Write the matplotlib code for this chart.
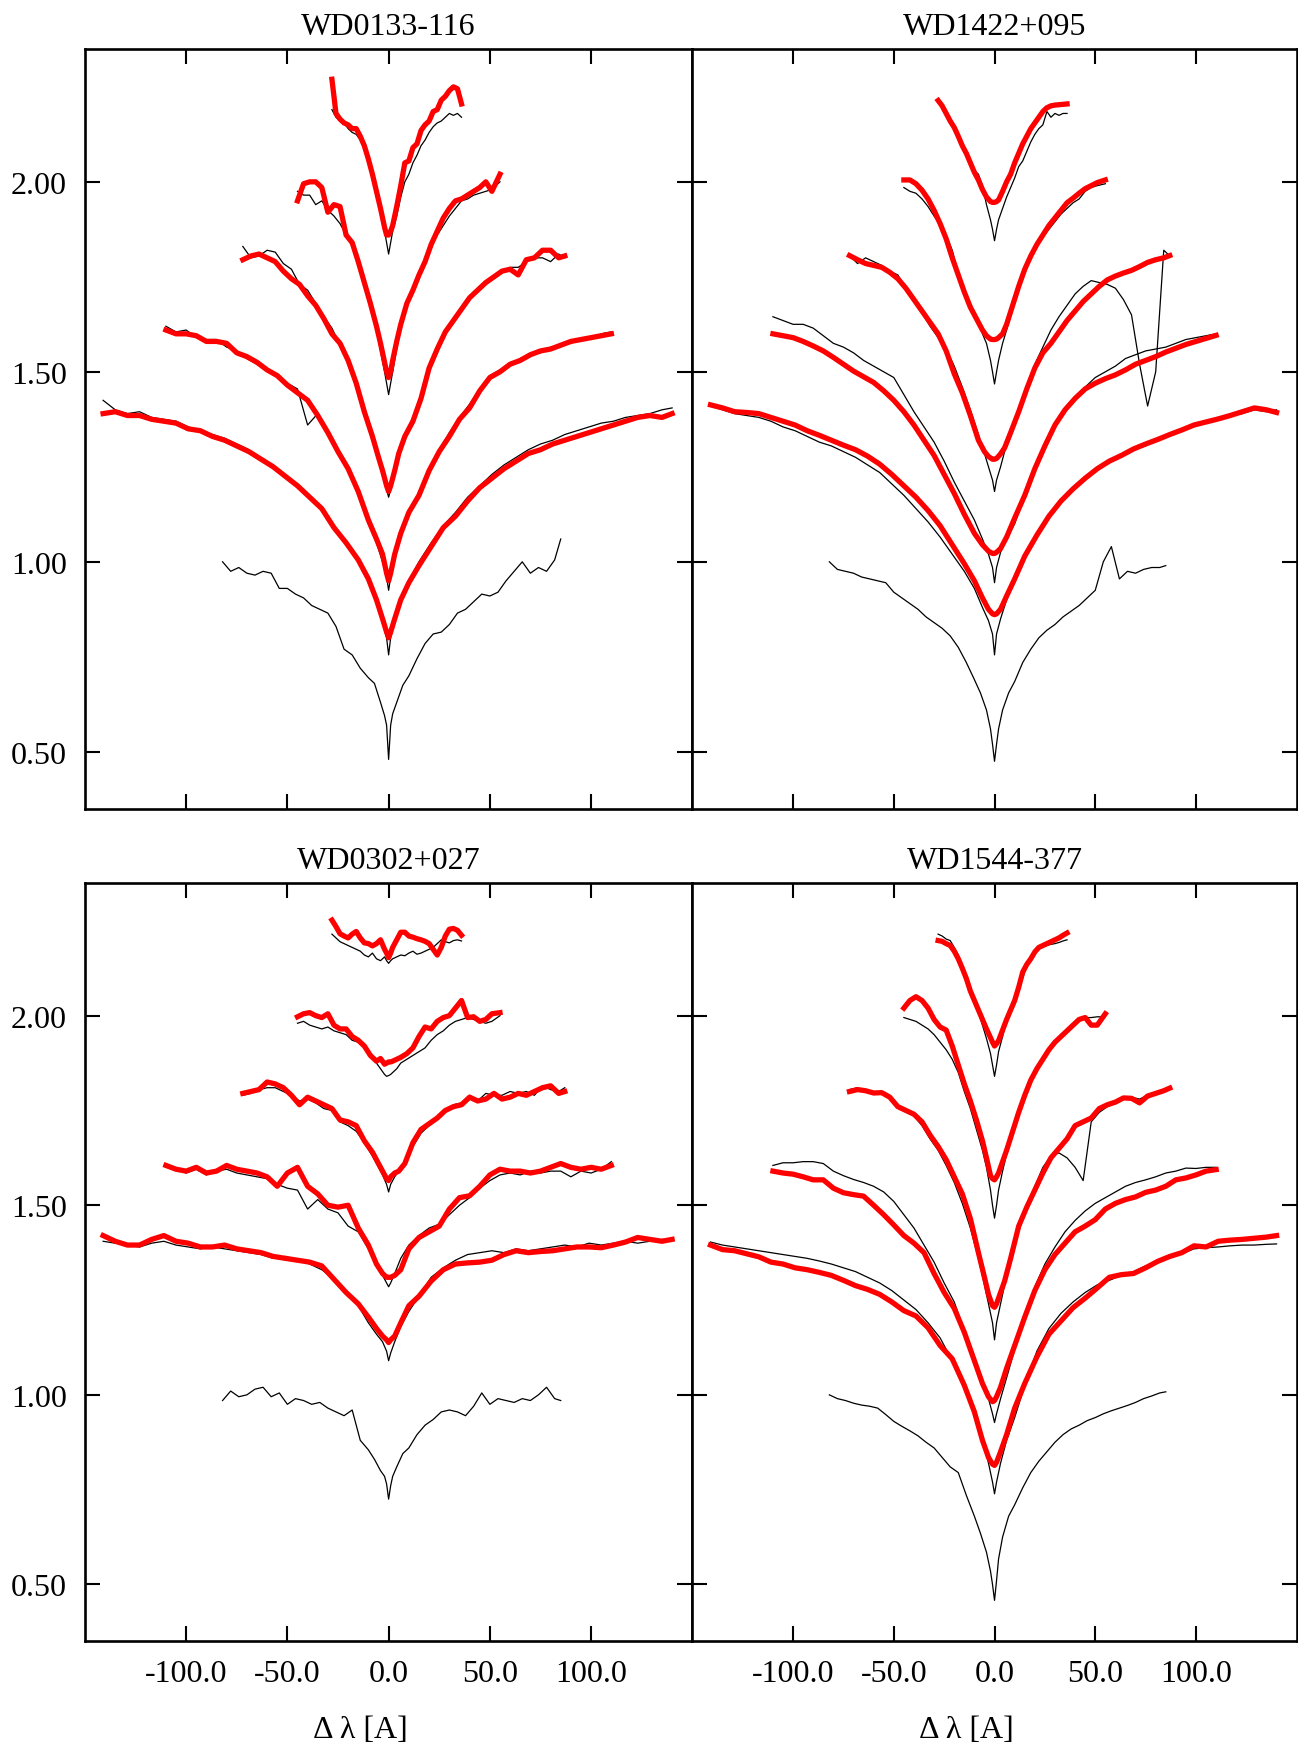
import matplotlib.pyplot as plt

plt.rcParams['font.family'] = ['Liberation Serif', 'DejaVu Serif']
plt.rcParams['axes.unicode_minus'] = False

# wavelength offsets from line centre [A], one grid per Balmer line
dl_ha = [-82, -78, -74, -70, -66, -62, -58, -54, -50, -46, -42, -38, -34, -30, -26, -22, -18, -14, -10,
         -7, -4, -2, -1, 0, 1, 2, 4, 7,
         10, 14, 18, 22, 26, 30, 34, 38, 42, 46, 50, 54, 58, 62, 66, 70, 74, 78, 82, 85]
dl_hb = [-141, -135, -129, -123, -117, -111, -105, -99, -93, -87, -81, -75, -69, -63, -57, -51, -45, -39,
         -33, -27, -21, -15, -10, -6, -3, -1, 0, 1, 3, 6, 10, 15, 21, 27, 33, 39, 45, 51, 57, 63, 69, 75,
         81, 87, 93, 99, 105, 111, 117, 123, 129, 135, 140]
dl_hg = [-110, -105, -100, -95, -90, -85, -80, -75, -70, -65, -60, -55, -50, -45, -40, -35, -30, -25, -20,
         -15, -10, -6, -3, -1, 0, 1, 3, 6, 10, 15, 20, 25, 30, 35, 40, 45, 50, 55, 60, 65, 70, 75, 80, 85,
         90, 95, 100, 105, 110]
dl_hd = [-72, -68, -64, -60, -56, -52, -48, -44, -40, -36, -32, -28, -24, -20, -16, -12,
         -8, -5, -3, -1, 0, 1, 3, 5, 8,
         12, 16, 20, 24, 28, 32, 36, 40, 44, 48, 52, 56, 60, 64, 68, 72, 76, 80, 84, 87]
dl_he = [-45, -42, -39, -36, -33, -30, -27, -24, -21, -18, -15, -12, -9,
         -6, -4, -2, -1, 0, 1, 2, 4, 6,
         9, 12, 15, 18, 21, 24, 27, 30, 33, 36, 39, 42, 45, 48, 51, 55]
dl_h8 = [-28, -26, -24, -22, -20, -18, -16, -14, -12, -10, -8, -6,
         -4, -2, -1, 0, 1, 2, 4,
         6, 8, 10, 12, 14, 16, 18, 20, 22, 24, 26, 28, 30, 32, 34, 36]

# ---- WD0133-116 : observed (offset) and model fits
s0133_ha = [1.00, 0.975, 0.985, 0.97, 0.965, 0.975, 0.97, 0.93, 0.93, 0.915, 0.905, 0.885, 0.875, 0.865, 0.83,
            0.77, 0.755, 0.72, 0.695, 0.68, 0.63, 0.595, 0.57, 0.48, 0.57, 0.6, 0.63, 0.675, 0.70, 0.745, 0.785,
            0.81, 0.815, 0.835, 0.865, 0.875, 0.895, 0.915, 0.91, 0.92, 0.95, 0.975, 1.0, 0.97, 0.985, 0.975,
            1.005, 1.06]
s0133_hb = [1.425, 1.40, 1.39, 1.395, 1.38, 1.375, 1.37, 1.355, 1.345, 1.335, 1.325, 1.31, 1.295, 1.27, 1.255,
            1.225, 1.205, 1.175, 1.14, 1.09, 1.045, 1.0, 0.95, 0.895, 0.84, 0.80, 0.755, 0.80, 0.845, 0.90,
            0.95, 1.0, 1.05, 1.095, 1.13, 1.17, 1.20, 1.23, 1.255, 1.275, 1.295, 1.31, 1.32, 1.335, 1.345,
            1.355, 1.365, 1.37, 1.38, 1.385, 1.39, 1.40, 1.405]
s0133_hb_fit = [1.39, 1.395, 1.385, 1.385, 1.375, 1.37, 1.365, 1.35, 1.345, 1.33, 1.32, 1.305, 1.29, 1.27,
                1.25, 1.225, 1.20, 1.17, 1.14, 1.09, 1.05, 1.005, 0.955, 0.90, 0.85, 0.815, 0.80, 0.815, 0.85,
                0.90, 0.945, 0.99, 1.04, 1.09, 1.12, 1.16, 1.195, 1.22, 1.245, 1.265, 1.285, 1.295, 1.31,
                1.32, 1.33, 1.34, 1.35, 1.36, 1.37, 1.38, 1.385, 1.38, 1.39]
s0133_hg = [1.62, 1.605, 1.61, 1.59, 1.585, 1.585, 1.565, 1.555, 1.535, 1.52, 1.51, 1.485, 1.47, 1.455, 1.36,
            1.39, 1.345, 1.295, 1.24, 1.175, 1.10, 1.05, 1.0, 0.96, 0.925, 0.96, 1.01, 1.07, 1.125, 1.185,
            1.245, 1.295, 1.34, 1.38, 1.415, 1.455, 1.49, 1.505, 1.515, 1.535, 1.545, 1.55, 1.565, 1.57,
            1.575, 1.59, 1.585, 1.60, 1.605]
s0133_hg_fit = [1.61, 1.60, 1.60, 1.595, 1.58, 1.58, 1.575, 1.55, 1.54, 1.525, 1.505, 1.49, 1.465, 1.445,
                1.425, 1.385, 1.34, 1.29, 1.245, 1.185, 1.11, 1.06, 1.02, 0.97, 0.95, 0.97, 1.02, 1.075,
                1.13, 1.175, 1.24, 1.29, 1.33, 1.375, 1.405, 1.45, 1.485, 1.50, 1.52, 1.53, 1.545, 1.555,
                1.56, 1.57, 1.58, 1.585, 1.59, 1.595, 1.60]
s0133_hd = [1.83, 1.80, 1.805, 1.82, 1.815, 1.785, 1.77, 1.73, 1.715, 1.68, 1.645, 1.615, 1.57, 1.52, 1.46,
            1.39, 1.325, 1.27, 1.23, 1.19, 1.17, 1.19, 1.235, 1.28, 1.33, 1.38, 1.44, 1.50, 1.55, 1.60,
            1.64, 1.665, 1.69, 1.715, 1.73, 1.745, 1.76, 1.775, 1.775, 1.79, 1.80, 1.80, 1.79, 1.81, 1.80]
s0133_hd_fit = [1.795, 1.805, 1.81, 1.80, 1.79, 1.765, 1.745, 1.73, 1.70, 1.675, 1.64, 1.60, 1.575, 1.53,
                1.47, 1.395, 1.33, 1.275, 1.24, 1.20, 1.185, 1.20, 1.24, 1.285, 1.33, 1.37, 1.43, 1.51,
                1.56, 1.605, 1.635, 1.665, 1.695, 1.715, 1.735, 1.75, 1.765, 1.77, 1.755, 1.795, 1.80,
                1.82, 1.82, 1.80, 1.805]
s0133_he = [1.975, 1.965, 1.965, 1.94, 1.95, 1.925, 1.91, 1.89, 1.86, 1.83, 1.785, 1.74, 1.68, 1.61, 1.555,
            1.50, 1.47, 1.44, 1.47, 1.50, 1.56, 1.615, 1.67, 1.715, 1.755, 1.80, 1.83, 1.86, 1.885, 1.91,
            1.93, 1.95, 1.955, 1.965, 1.97, 1.975, 1.98, 2.0]
s0133_he_fit = [1.95, 1.995, 2.0, 2.0, 1.985, 1.92, 1.94, 1.935, 1.86, 1.84, 1.79, 1.735, 1.68, 1.62, 1.575,
                1.525, 1.50, 1.485, 1.50, 1.53, 1.58, 1.625, 1.68, 1.715, 1.755, 1.79, 1.835, 1.87, 1.905,
                1.93, 1.95, 1.955, 1.965, 1.975, 1.985, 2.0, 1.975, 2.02]
s0133_h8 = [2.19, 2.17, 2.16, 2.155, 2.14, 2.13, 2.125, 2.11, 2.085, 2.05, 2.01, 1.96, 1.92, 1.87, 1.84,
            1.81, 1.84, 1.87, 1.91, 1.96, 2.0, 2.02, 2.05, 2.07, 2.095, 2.11, 2.13, 2.145, 2.155, 2.16,
            2.17, 2.18, 2.175, 2.18, 2.17]
s0133_h8_fit = [2.27, 2.18, 2.165, 2.155, 2.15, 2.14, 2.14, 2.12, 2.095, 2.06, 2.02, 1.975, 1.93, 1.88,
                1.86, 1.86, 1.87, 1.885, 1.935, 1.99, 2.05, 2.055, 2.09, 2.10, 2.135, 2.15, 2.16, 2.185,
                2.19, 2.215, 2.225, 2.24, 2.25, 2.245, 2.205]

# ---- WD1422+095
s1422_ha = [1.0, 0.98, 0.975, 0.97, 0.96, 0.955, 0.95, 0.945, 0.92, 0.905, 0.89, 0.875, 0.855, 0.84, 0.825,
            0.805, 0.775, 0.735, 0.69, 0.655, 0.61, 0.56, 0.52, 0.475, 0.52, 0.56, 0.61, 0.655, 0.685, 0.735,
            0.77, 0.80, 0.82, 0.835, 0.855, 0.87, 0.885, 0.905, 0.925, 1.0, 1.04, 0.955, 0.975, 0.97,
            0.98, 0.985, 0.985, 0.99]
s1422_hb = [1.41, 1.40, 1.39, 1.385, 1.38, 1.37, 1.355, 1.345, 1.33, 1.315, 1.305, 1.29, 1.275, 1.255, 1.235,
            1.205, 1.175, 1.14, 1.105, 1.065, 1.02, 0.975, 0.93, 0.88, 0.845, 0.81, 0.755, 0.81, 0.85, 0.90,
            0.95, 1.01, 1.07, 1.115, 1.16, 1.19, 1.22, 1.245, 1.26, 1.28, 1.295, 1.305, 1.325, 1.335, 1.345,
            1.36, 1.37, 1.375, 1.385, 1.39, 1.40, 1.395, 1.40]
s1422_hb_fit = [1.413, 1.405, 1.395, 1.393, 1.39, 1.38, 1.37, 1.36, 1.345, 1.333, 1.32, 1.307, 1.295, 1.278,
                1.257, 1.23, 1.20, 1.17, 1.135, 1.095, 1.045, 0.995, 0.95, 0.905, 0.875, 0.863, 0.861, 0.863,
                0.875, 0.91, 0.955, 1.015, 1.07, 1.12, 1.16, 1.192, 1.22, 1.245, 1.265, 1.28, 1.297, 1.31,
                1.322, 1.335, 1.347, 1.36, 1.368, 1.376, 1.385, 1.395, 1.405, 1.40, 1.393]
s1422_hg = [1.645, 1.635, 1.625, 1.625, 1.615, 1.595, 1.575, 1.565, 1.55, 1.53, 1.515, 1.50, 1.485, 1.44,
            1.395, 1.355, 1.315, 1.265, 1.21, 1.16, 1.11, 1.06, 1.02, 0.985, 0.945, 0.985, 1.025, 1.06, 1.10,
            1.175, 1.245, 1.31, 1.365, 1.405, 1.435, 1.46, 1.485, 1.50, 1.515, 1.535, 1.545, 1.555, 1.56,
            1.565, 1.575, 1.585, 1.59, 1.595, 1.60]
s1422_hg_fit = [1.60, 1.595, 1.59, 1.58, 1.568, 1.555, 1.538, 1.52, 1.502, 1.487, 1.472, 1.45, 1.425, 1.395,
                1.36, 1.32, 1.28, 1.23, 1.18, 1.125, 1.075, 1.045, 1.028, 1.022, 1.022, 1.025, 1.035, 1.065,
                1.115, 1.175, 1.245, 1.305, 1.36, 1.40, 1.43, 1.455, 1.47, 1.482, 1.492, 1.505, 1.52, 1.53,
                1.54, 1.552, 1.562, 1.572, 1.58, 1.588, 1.596]
s1422_hd = [1.806, 1.785, 1.80, 1.79, 1.78, 1.765, 1.755, 1.72, 1.69, 1.655, 1.62, 1.59, 1.56, 1.515, 1.46,
            1.40, 1.335, 1.285, 1.25, 1.215, 1.185, 1.215, 1.25, 1.29, 1.33, 1.39, 1.46, 1.52, 1.565, 1.61,
            1.645, 1.675, 1.705, 1.725, 1.74, 1.735, 1.73, 1.72, 1.69, 1.65, 1.52, 1.41, 1.50, 1.82, 1.805]
s1422_hd_fit = [1.806, 1.795, 1.785, 1.78, 1.775, 1.762, 1.745, 1.72, 1.69, 1.66, 1.63, 1.60, 1.555, 1.495,
                1.445, 1.385, 1.32, 1.29, 1.277, 1.27, 1.27, 1.272, 1.284, 1.30, 1.34, 1.395, 1.455, 1.51,
                1.55, 1.575, 1.605, 1.635, 1.66, 1.685, 1.705, 1.725, 1.742, 1.752, 1.76, 1.767, 1.777,
                1.788, 1.795, 1.80, 1.806]
s1422_he = [1.985, 1.975, 1.97, 1.955, 1.935, 1.91, 1.885, 1.86, 1.82, 1.76, 1.715, 1.68, 1.645, 1.60, 1.575,
            1.53, 1.50, 1.468, 1.50, 1.53, 1.575, 1.61, 1.665, 1.715, 1.76, 1.80, 1.83, 1.855, 1.875, 1.895,
            1.915, 1.93, 1.945, 1.955, 1.975, 1.985, 1.99, 1.995]
s1422_he_fit = [2.005, 2.005, 1.995, 1.978, 1.955, 1.925, 1.89, 1.85, 1.80, 1.755, 1.71, 1.67, 1.64, 1.61,
                1.595, 1.586, 1.585, 1.585, 1.586, 1.59, 1.60, 1.625, 1.675, 1.725, 1.77, 1.805, 1.835,
                1.86, 1.885, 1.905, 1.925, 1.945, 1.957, 1.97, 1.982, 1.99, 1.998, 2.005]
s1422_h8 = [2.21, 2.195, 2.18, 2.165, 2.15, 2.12, 2.09, 2.07, 2.05, 2.03, 2.02, 1.99, 1.94, 1.90, 1.875,
            1.845, 1.875, 1.90, 1.93, 1.96, 1.985, 2.01, 2.04, 2.055, 2.08, 2.105, 2.125, 2.14, 2.15, 2.185,
            2.17, 2.18, 2.175, 2.18, 2.18]
s1422_h8_fit = [2.214, 2.20, 2.18, 2.16, 2.143, 2.12, 2.095, 2.075, 2.05, 2.025, 2.005, 1.98, 1.96, 1.948,
                1.946, 1.946, 1.948, 1.952, 1.975, 2.0, 2.02, 2.05, 2.075, 2.10, 2.12, 2.14, 2.155, 2.17,
                2.185, 2.195, 2.20, 2.202, 2.203, 2.204, 2.205]

# ---- WD0302+027
s0302_ha = [0.985, 1.01, 0.995, 1.0, 1.015, 1.02, 0.995, 1.005, 0.975, 0.99, 0.985, 0.975, 0.98, 0.965, 0.955,
            0.945, 0.96, 0.88, 0.855, 0.83, 0.80, 0.785, 0.765, 0.725, 0.76, 0.785, 0.81, 0.845, 0.86, 0.895,
            0.92, 0.935, 0.955, 0.96, 0.955, 0.945, 0.97, 1.005, 0.975, 0.99, 0.985, 0.98, 0.99, 0.985, 1.0,
            1.02, 0.99, 0.985]
s0302_hb = [1.405, 1.40, 1.395, 1.39, 1.40, 1.405, 1.395, 1.39, 1.385, 1.39, 1.385, 1.38, 1.375, 1.37, 1.36,
            1.365, 1.355, 1.345, 1.33, 1.305, 1.27, 1.235, 1.19, 1.16, 1.14, 1.115, 1.09, 1.11, 1.14, 1.18,
            1.22, 1.26, 1.31, 1.335, 1.355, 1.37, 1.375, 1.38, 1.375, 1.385, 1.38, 1.385, 1.39, 1.395, 1.39,
            1.40, 1.395, 1.40, 1.405, 1.40, 1.405, 1.41, 1.41]
s0302_hb_fit = [1.42, 1.405, 1.395, 1.395, 1.41, 1.42, 1.405, 1.40, 1.39, 1.39, 1.395, 1.385, 1.38, 1.375,
                1.365, 1.36, 1.355, 1.35, 1.34, 1.305, 1.27, 1.24, 1.205, 1.175, 1.155, 1.145, 1.138, 1.145,
                1.155, 1.19, 1.235, 1.26, 1.30, 1.33, 1.345, 1.348, 1.35, 1.355, 1.37, 1.38, 1.375, 1.378,
                1.38, 1.385, 1.39, 1.39, 1.388, 1.395, 1.403, 1.415, 1.41, 1.405, 1.41]
s0302_hg = [1.61, 1.595, 1.585, 1.595, 1.58, 1.59, 1.595, 1.585, 1.58, 1.575, 1.57, 1.555, 1.545, 1.54, 1.49,
            1.515, 1.49, 1.48, 1.445, 1.43, 1.385, 1.345, 1.315, 1.295, 1.285, 1.295, 1.32, 1.36, 1.395,
            1.42, 1.44, 1.45, 1.475, 1.50, 1.52, 1.545, 1.565, 1.58, 1.585, 1.58, 1.59, 1.585, 1.59, 1.59,
            1.575, 1.59, 1.585, 1.595, 1.615]
s0302_hg_fit = [1.605, 1.595, 1.59, 1.60, 1.585, 1.59, 1.605, 1.595, 1.59, 1.585, 1.575, 1.55, 1.585, 1.60,
                1.55, 1.53, 1.50, 1.495, 1.50, 1.44, 1.395, 1.345, 1.32, 1.31, 1.31, 1.31, 1.315, 1.33,
                1.385, 1.415, 1.43, 1.445, 1.49, 1.52, 1.525, 1.55, 1.58, 1.595, 1.59, 1.59, 1.585, 1.59,
                1.60, 1.61, 1.60, 1.595, 1.60, 1.595, 1.605]
s0302_hd = [1.79, 1.795, 1.805, 1.81, 1.81, 1.80, 1.79, 1.775, 1.78, 1.77, 1.755, 1.75, 1.72, 1.71, 1.695,
            1.665, 1.63, 1.60, 1.58, 1.555, 1.535, 1.555, 1.575, 1.59, 1.615, 1.655, 1.69, 1.71, 1.73, 1.745,
            1.765, 1.77, 1.79, 1.775, 1.795, 1.79, 1.79, 1.80, 1.795, 1.80, 1.79, 1.815, 1.805, 1.80, 1.81]
s0302_hd_fit = [1.795, 1.80, 1.805, 1.825, 1.82, 1.81, 1.79, 1.765, 1.785, 1.775, 1.765, 1.755, 1.725, 1.72,
                1.71, 1.67, 1.64, 1.61, 1.59, 1.57, 1.565, 1.575, 1.585, 1.59, 1.61, 1.665, 1.70, 1.715,
                1.73, 1.75, 1.76, 1.765, 1.785, 1.775, 1.78, 1.795, 1.78, 1.785, 1.795, 1.79, 1.80, 1.81,
                1.815, 1.795, 1.80]
s0302_he = [1.98, 1.985, 1.975, 1.97, 1.965, 1.97, 1.96, 1.955, 1.95, 1.935, 1.93, 1.915, 1.895, 1.875, 1.86,
            1.845, 1.84, 1.842, 1.845, 1.85, 1.86, 1.875, 1.885, 1.895, 1.905, 1.915, 1.935, 1.95, 1.96,
            1.975, 1.985, 1.99, 1.995, 1.99, 1.985, 1.98, 1.985, 2.0]
s0302_he_fit = [1.997, 2.005, 2.008, 2.0, 1.995, 2.005, 1.975, 1.965, 1.965, 1.945, 1.935, 1.92, 1.895, 1.88,
                1.887, 1.872, 1.875, 1.878, 1.878, 1.88, 1.885, 1.89, 1.90, 1.915, 1.945, 1.97, 1.965,
                1.985, 1.995, 2.0, 2.02, 2.04, 1.995, 1.997, 1.985, 1.99, 2.005, 2.008]
s0302_h8 = [2.215, 2.205, 2.195, 2.19, 2.185, 2.18, 2.175, 2.17, 2.16, 2.155, 2.165, 2.15, 2.145, 2.155,
            2.145, 2.138, 2.145, 2.15, 2.155, 2.16, 2.158, 2.165, 2.17, 2.162, 2.165, 2.17, 2.175, 2.18,
            2.19, 2.20, 2.195, 2.192, 2.198, 2.20, 2.197]
s0302_h8_fit = [2.252, 2.235, 2.216, 2.21, 2.205, 2.215, 2.222, 2.205, 2.192, 2.19, 2.184, 2.19, 2.20, 2.175,
                2.165, 2.153, 2.165, 2.18, 2.20, 2.22, 2.22, 2.21, 2.207, 2.203, 2.20, 2.196, 2.19, 2.175,
                2.16, 2.18, 2.21, 2.228, 2.23, 2.225, 2.212]

# ---- WD1544-377
s1544_ha = [1.0, 0.99, 0.985, 0.978, 0.973, 0.97, 0.965, 0.948, 0.93, 0.917, 0.905, 0.892, 0.875, 0.86, 0.835,
            0.81, 0.795, 0.735, 0.68, 0.635, 0.585, 0.535, 0.50, 0.458, 0.51, 0.567, 0.625, 0.68, 0.71, 0.755,
            0.795, 0.825, 0.85, 0.875, 0.895, 0.91, 0.92, 0.932, 0.94, 0.95, 0.958, 0.965, 0.972, 0.98,
            0.99, 0.997, 1.005, 1.008]
s1544_hb = [1.403, 1.395, 1.39, 1.385, 1.38, 1.375, 1.37, 1.365, 1.36, 1.353, 1.345, 1.335, 1.325, 1.31, 1.295,
            1.275, 1.25, 1.225, 1.19, 1.15, 1.09, 1.02, 0.95, 0.88, 0.82, 0.77, 0.739, 0.77, 0.82, 0.88, 0.94,
            1.025, 1.115, 1.175, 1.215, 1.245, 1.27, 1.29, 1.302, 1.315, 1.325, 1.34, 1.352, 1.362, 1.372,
            1.385, 1.388, 1.39, 1.393, 1.395, 1.395, 1.397, 1.398]
s1544_hb_fit = [1.395, 1.383, 1.38, 1.372, 1.364, 1.35, 1.345, 1.335, 1.33, 1.323, 1.315, 1.302, 1.288, 1.278,
                1.265, 1.245, 1.222, 1.208, 1.177, 1.13, 1.095, 1.025, 0.955, 0.88, 0.835, 0.817, 0.814,
                0.822, 0.85, 0.895, 0.965, 1.03, 1.10, 1.16, 1.195, 1.23, 1.255, 1.282, 1.31, 1.317, 1.32,
                1.335, 1.352, 1.365, 1.375, 1.393, 1.39, 1.405, 1.408, 1.41, 1.413, 1.416, 1.42]
s1544_hg = [1.605, 1.612, 1.612, 1.615, 1.615, 1.61, 1.59, 1.578, 1.568, 1.56, 1.55, 1.535, 1.51, 1.475, 1.44,
            1.395, 1.35, 1.295, 1.245, 1.17, 1.10, 1.04, 0.99, 0.95, 0.927, 0.95, 0.99, 1.045, 1.12, 1.20,
            1.285, 1.345, 1.39, 1.43, 1.46, 1.485, 1.505, 1.52, 1.535, 1.55, 1.56, 1.567, 1.575, 1.585, 1.59,
            1.598, 1.597, 1.6, 1.6]
s1544_hg_fit = [1.59, 1.585, 1.582, 1.575, 1.567, 1.567, 1.545, 1.533, 1.528, 1.524, 1.50, 1.475, 1.448, 1.42,
                1.40, 1.375, 1.32, 1.27, 1.228, 1.165, 1.09, 1.03, 0.995, 0.982, 0.985, 0.995, 1.02, 1.07,
                1.13, 1.205, 1.275, 1.33, 1.37, 1.40, 1.43, 1.445, 1.462, 1.49, 1.505, 1.515, 1.522, 1.534,
                1.54, 1.55, 1.567, 1.572, 1.58, 1.59, 1.594]
s1544_hd = [1.805, 1.81, 1.80, 1.798, 1.795, 1.785, 1.765, 1.75, 1.735, 1.71, 1.675, 1.645, 1.605, 1.56, 1.505,
            1.44, 1.36, 1.29, 1.24, 1.19, 1.145, 1.19, 1.24, 1.29, 1.355, 1.43, 1.50, 1.55, 1.60, 1.63, 1.638,
            1.625, 1.60, 1.565, 1.72, 1.745, 1.76, 1.77, 1.78, 1.785, 1.78, 1.79, 1.795, 1.80, 1.81]
s1544_hd_fit = [1.80, 1.805, 1.802, 1.796, 1.797, 1.785, 1.76, 1.75, 1.74, 1.72, 1.685, 1.655, 1.62, 1.575,
                1.53, 1.465, 1.375, 1.31, 1.265, 1.235, 1.231, 1.24, 1.27, 1.30, 1.36, 1.445, 1.495, 1.54,
                1.585, 1.625, 1.65, 1.675, 1.71, 1.72, 1.73, 1.755, 1.765, 1.772, 1.783, 1.782, 1.77,
                1.788, 1.795, 1.802, 1.809]
s1544_he = [1.995, 1.99, 1.985, 1.975, 1.965, 1.95, 1.93, 1.91, 1.885, 1.85, 1.80, 1.755, 1.70, 1.645, 1.60,
            1.54, 1.50, 1.466, 1.50, 1.54, 1.59, 1.635, 1.69, 1.74, 1.785, 1.83, 1.86, 1.89, 1.91, 1.93, 1.95,
            1.965, 1.98, 1.99, 1.995, 1.995, 1.997, 1.997]
s1544_he_fit = [2.02, 2.04, 2.05, 2.04, 2.02, 1.99, 1.97, 1.962, 1.92, 1.87, 1.82, 1.775, 1.725, 1.67, 1.625,
                1.578, 1.57, 1.567, 1.575, 1.585, 1.615, 1.645, 1.695, 1.745, 1.79, 1.83, 1.86, 1.885, 1.91,
                1.93, 1.945, 1.96, 1.975, 1.99, 1.995, 1.975, 1.975, 2.005]
s1544_h8 = [2.215, 2.21, 2.202, 2.198, 2.18, 2.16, 2.13, 2.10, 2.07, 2.04, 2.01, 1.975, 1.94, 1.90, 1.87, 1.84,
            1.87, 1.905, 1.945, 1.985, 2.015, 2.04, 2.065, 2.1, 2.13, 2.15, 2.17, 2.178, 2.182, 2.185, 2.188,
            2.19, 2.193, 2.197, 2.20]
s1544_h8_fit = [2.198, 2.196, 2.19, 2.185, 2.17, 2.15, 2.125, 2.098, 2.065, 2.04, 2.015, 1.99, 1.965, 1.942,
                1.93, 1.92, 1.926, 1.934, 1.962, 1.99, 2.015, 2.04, 2.075, 2.115, 2.135, 2.15, 2.168, 2.18,
                2.185, 2.19, 2.195, 2.2, 2.205, 2.212, 2.218]

grids = [dl_ha, dl_hb, dl_hg, dl_hd, dl_he, dl_h8]
panels = [
    ("WD0133-116", [s0133_ha, s0133_hb, s0133_hg, s0133_hd, s0133_he, s0133_h8],
     [None, s0133_hb_fit, s0133_hg_fit, s0133_hd_fit, s0133_he_fit, s0133_h8_fit]),
    ("WD1422+095", [s1422_ha, s1422_hb, s1422_hg, s1422_hd, s1422_he, s1422_h8],
     [None, s1422_hb_fit, s1422_hg_fit, s1422_hd_fit, s1422_he_fit, s1422_h8_fit]),
    ("WD0302+027", [s0302_ha, s0302_hb, s0302_hg, s0302_hd, s0302_he, s0302_h8],
     [None, s0302_hb_fit, s0302_hg_fit, s0302_hd_fit, s0302_he_fit, s0302_h8_fit]),
    ("WD1544-377", [s1544_ha, s1544_hb, s1544_hg, s1544_hd, s1544_he, s1544_h8],
     [None, s1544_hb_fit, s1544_hg_fit, s1544_hd_fit, s1544_he_fit, s1544_h8_fit]),
]

xticks = [-100, -50, 0, 50, 100]
yticks = [0.5, 1.0, 1.5, 2.0]

fig = plt.figure(figsize=(12.98, 17.49), dpi=100)
# [left, bottom, width, height] for the 2x2 grid of panels
boxes = [
    [0.0654, 0.5370, 0.4680, 0.4345],
    [0.5334, 0.5370, 0.4656, 0.4345],
    [0.0654, 0.0610, 0.4680, 0.4336],
    [0.5334, 0.0610, 0.4656, 0.4336],
]

for i, (name, obs, fit) in enumerate(panels):
    ax = fig.add_axes(boxes[i])
    for dl, y in zip(grids, obs):
        ax.plot(dl, y, color='black', lw=0.9, zorder=2)
    for dl, y in zip(grids, fit):
        if y is not None:
            ax.plot(dl, y, color='#ff0000', lw=3.8, zorder=3)

    ax.set_xlim(-150, 150)
    ax.set_ylim(0.35, 2.35)
    ax.set_xticks(xticks)
    ax.set_yticks(yticks)
    ax.set_xticklabels(['%.1f' % v for v in xticks])
    ax.set_yticklabels(['%.2f' % v for v in yticks])
    ax.tick_params(direction='in', length=11, width=1.5, top=True, right=True,
                   labelsize=23, pad=13)
    for sp in ax.spines.values():
        sp.set_linewidth(1.9)

    bottom_row = i >= 2
    left_col = i % 2 == 0
    ax.tick_params(labelbottom=bottom_row, labelleft=left_col)
    if bottom_row:
        ax.set_xlabel('\u0394 \u03bb [A]', fontsize=23)
        ax.xaxis.set_label_coords(0.453, -0.097)
    ax.set_title(name, fontsize=23, pad=11)

fig.savefig('out.png', dpi=100)
